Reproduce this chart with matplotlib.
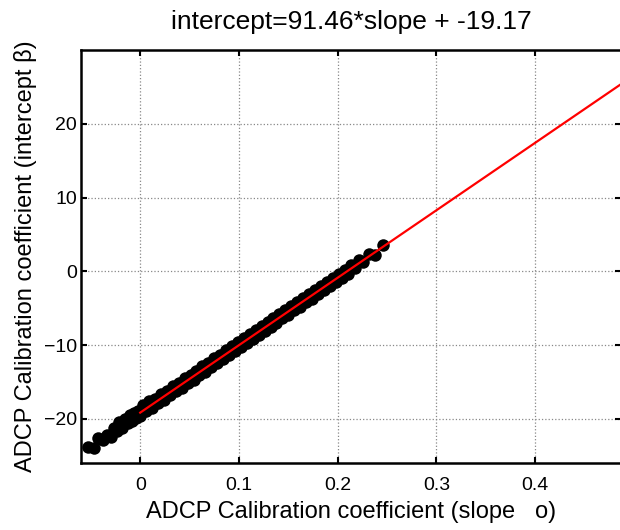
import numpy as np
import matplotlib
matplotlib.use("Agg")
import matplotlib.pyplot as plt

plt.rcParams['font.family'] = ['Liberation Sans', 'DejaVu Sans']

# fit from the title
fit_slope = 91.46
fit_intercept = -19.17
fit_x = [0.0, 0.49]

# calibration points (slope, intercept)
slope_pts = [-0.053, -0.047, -0.043, -0.038, -0.034, -0.030, -0.027, -0.024, -0.021, -0.018,
             -0.015, -0.012, -0.010, -0.008, -0.006, -0.004, -0.002, 0.000, 0.003, 0.006,
             0.009, 0.012, 0.015, 0.018, 0.021, 0.024, 0.027, 0.030, 0.033, 0.036,
             0.039, 0.042, 0.045, 0.048, 0.051, 0.054, 0.057, 0.060, 0.063, 0.066,
             0.069, 0.072, 0.075, 0.078, 0.081, 0.084, 0.087, 0.090, 0.093, 0.096,
             0.099, 0.102, 0.105, 0.108, 0.111, 0.114, 0.117, 0.120, 0.123, 0.126,
             0.129, 0.132, 0.135, 0.138, 0.141, 0.144, 0.147, 0.150, 0.153, 0.156,
             0.159, 0.162, 0.165, 0.168, 0.171, 0.174, 0.177, 0.180, 0.183, 0.186,
             0.189, 0.192, 0.195, 0.198, 0.201, 0.204, 0.207, 0.210, 0.214, 0.218,
             0.222, 0.226, 0.232, 0.238, 0.246]
intercept_pts = [-23.8, -23.9, -22.6, -22.9, -22.2, -22.5, -21.2, -21.7, -20.4, -21.3,
                 -20.1, -20.6, -19.5, -20.3, -19.2, -19.9, -18.9, -19.6, -18.2, -19.0,
                 -17.6, -18.5, -17.3, -17.9, -16.7, -17.4, -16.2, -16.8, -15.6, -16.3,
                 -15.1, -15.8, -14.5, -15.2, -14.0, -14.7, -13.5, -14.1, -12.9, -13.6,
                 -12.4, -13.0, -11.8, -12.5, -11.3, -11.9, -10.7, -11.4, -10.2, -10.8,
                 -9.6, -10.3, -9.1, -9.7, -8.5, -9.2, -8.0, -8.6, -7.4, -8.1,
                 -6.9, -7.5, -6.3, -7.0, -5.8, -6.4, -5.2, -5.9, -4.7, -5.3,
                 -4.2, -4.8, -3.6, -4.2, -3.1, -3.7, -2.5, -3.1, -2.0, -2.6,
                 -1.4, -2.0, -0.9, -1.5, -0.4, -0.9, 0.2, -0.4, 0.8, 0.4,
                 1.5, 1.2, 2.4, 2.2, 3.5]

xticks = [0, 0.1, 0.2, 0.3, 0.4]
yticks = [-20, -10, 0, 10, 20]

fig = plt.figure(figsize=(6.2, 5.3), dpi=100)
ax = fig.add_axes([0.1306, 0.1264, 0.8710, 0.7792])

ax.plot(slope_pts, intercept_pts, 'o', color='black', markersize=9, markeredgewidth=0)
fit_y = [fit_slope * v + fit_intercept for v in fit_x]
ax.plot(fit_x, fit_y, '-', color='red', linewidth=1.6)

ax.set_xlim(-0.06, 0.487)
ax.set_ylim(-26, 30)
ax.set_xticks(xticks)
ax.set_xticklabels(['0', '0.1', '0.2', '0.3', '0.4'])
ax.set_yticks(yticks)
ax.grid(True, linestyle=':', color='#888888', linewidth=0.9)

ax.tick_params(direction='in', length=4, width=1.5, top=True, right=True, labelsize=14)
ax.tick_params(axis='x', pad=10)
ax.tick_params(axis='y', pad=3)
for s in ['left', 'bottom', 'top']:
    ax.spines[s].set_linewidth(1.8)
ax.spines['right'].set_visible(False)

ax.set_title('intercept=91.46*slope + -19.17', fontsize=19, pad=15)
ax.set_xlabel('ADCP Calibration coefficient (slope   \u03bf)', fontsize=17, labelpad=5)
ax.set_ylabel('ADCP Calibration coefficient (intercept \u03b2)', fontsize=17, labelpad=5)

fig.savefig('out.png', dpi=100)
